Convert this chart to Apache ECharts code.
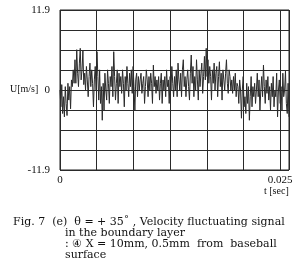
<!DOCTYPE html>
<html><head><meta charset="utf-8">
<script src="https://cdn.jsdelivr.net/npm/echarts@6/dist/echarts.min.js"></script>
<style>html,body{margin:0;padding:0;background:#fff}#c{width:296px;height:267px}</style>
</head><body><div id="c"></div>
<script>
const dt = 0.0001;
const velocity = [
0, -2.5, 0.8, -3.5, -1, -4, 0.5, -2, -3.8, 1, -1.5, 0.5, -2.8, 1.5, 0.5, 3, 1,
4.5, 1, 6, 2.5, 0.5, 4, 6.2, 1.5, 3, 5.8, 0.8,
2.5, 0, 3.5, 1.5, -1, 2, 4, 0.5, 3, 1, -2.5, 1.5, 3.5, 0, 5.7,
2, -1.5, 3, -2, 0.5, -4.5, 1, -3, 2.5, 0, -1.5, 3, 1, -2, 2,
0.5, 3.5, -1, 5.7, 2, -1.5, 1, 3, -2, 2.5, 0.5,
2, -0.5, 3, 1, -2.5, 2, 0, 3.5, 1, -1, 2.5, 0.5, 3, -0.5, 3.5,
0.5, -3, 1.5, 2.5, -1, 2, 0, 1.5,
2.5, -0.5, 1, 2, -2, 0.5, 3, 1.5, -1, 2, 0, 2.5, 1, -2, 3.7, 0.5, 2, -0.5, 1.5,
0, 2, -1.5, 1, 2.5, -2, 1.5, 0, 2, -1, 3, 0.5, 1.5, -2, 2, 0, 3.5, 1, -1,
2, 0, 3, -1, 4, 1.5, 0, 2.5, -1, 3, 4.5, 0.5, 2, -1, 1.5,
3, 0.5, -1.5, 2.5, 5.2, 1, 3.5, -1, 2, 0, 4.5, 1.5, -1.5, 3, 0.5, 2.5, 4, -0.5, 2, 5, 1.5, 6.2, 2,
4.5, 1, 3.5, 2, -1.5, 3, 1, 4, 0, 2.5, 3.5, -1, 2, 4.2, 0.5, 2.5, -1.5, 3, 1.5, 0, 2.5, 4.5, 1, -0.5, 3, 2, 0,
1.5, -0.5, 2, 0, 2.5, -1, 1, 0.5, -2, 1.5, 0,
-4.2, 0, 2, -2.5, -1, -3.5, 1, -2, 0.5, -4.5, -1, 2, -2.5, 0.5, -1,
1, -2, 0, 2.5, -1, 1.5, -3, 0, 2, -1, 3.7, 0.5, -2, 1.5, -0.5,
2, -1.5, 0.5, -3, 1, -1, 2, -2.5, 0, -1, 2.5, -4, 0, 1.5, -2, 0.5, -3, 2.5, -1, 0, 2.8, -2, -3.5, 1, -4
];
const yTickLabels = ['11.9', '0', '-11.9'];
const xTickLabels = ['0', '0.025'];
const captionLines = [
  'Fig. 7  (e)  \u03b8 = + 35\u02da , Velocity fluctuating signal',
  'in the boundary layer',
  ': \u2463 X = 10mm, 0.5mm  from  baseball',
  'surface'
];

const data = velocity.map((v, i) => [i * dt, v]);
const serif = '"DejaVu Serif", "Liberation Serif", serif';
const lserif = '"Liberation Serif", serif';
const chart = echarts.init(document.getElementById('c'));
chart.setOption({
  animation: false,
  grid: {left: 60, top: 10, width: 229, height: 160, show: true, borderColor: '#222', borderWidth: 1, backgroundColor: 'transparent'},
  xAxis: {
    type: 'value', min: 0, max: 0.026, interval: 0.025 / 6,
    axisLine: {show: false}, axisTick: {show: false},
    splitLine: {show: true, lineStyle: {color: '#2a2a2a', width: 1}},
    axisLabel: {
      color: '#111', fontFamily: lserif, fontSize: 11, margin: 5,
      formatter: v => Math.abs(v) < 1e-9 ? xTickLabels[0] : (Math.abs(v - 0.025) < 1e-6 ? xTickLabels[1] : '')
    }
  },
  yAxis: {
    type: 'value', min: -11.9, max: 11.9, interval: 2.975,
    axisLine: {show: false}, axisTick: {show: false},
    splitLine: {show: true, lineStyle: {color: '#2a2a2a', width: 1}},
    axisLabel: {
      color: '#111', fontFamily: lserif, fontSize: 11, margin: 10,
      formatter: v => v > 11 ? yTickLabels[0] : (Math.abs(v) < 1e-6 ? yTickLabels[1] : (v < -11 ? yTickLabels[2] : ''))
    }
  },
  graphic: [
    {type: 'text', left: 10, top: 84, style: {text: 'U[m/s]', font: '10px ' + lserif, fill: '#111'}},
    {type: 'text', left: 264, top: 186, style: {text: 't [sec]', font: '10px ' + lserif, fill: '#111'}},
    {type: 'text', left: 13, top: 217, style: {text: captionLines[0], font: '11px ' + serif, fill: '#111'}},
    {type: 'text', left: 65, top: 228, style: {text: captionLines[1], font: '11px ' + serif, fill: '#111'}},
    {type: 'text', left: 65, top: 239, style: {text: captionLines[2], font: '11px ' + serif, fill: '#111'}},
    {type: 'text', left: 65, top: 250, style: {text: captionLines[3], font: '11px ' + serif, fill: '#111'}}
  ],
  series: [{
    type: 'line', data: data, symbol: 'none',
    lineStyle: {color: '#2a2a2a', width: 1}
  }]
});
</script>
</body></html>
